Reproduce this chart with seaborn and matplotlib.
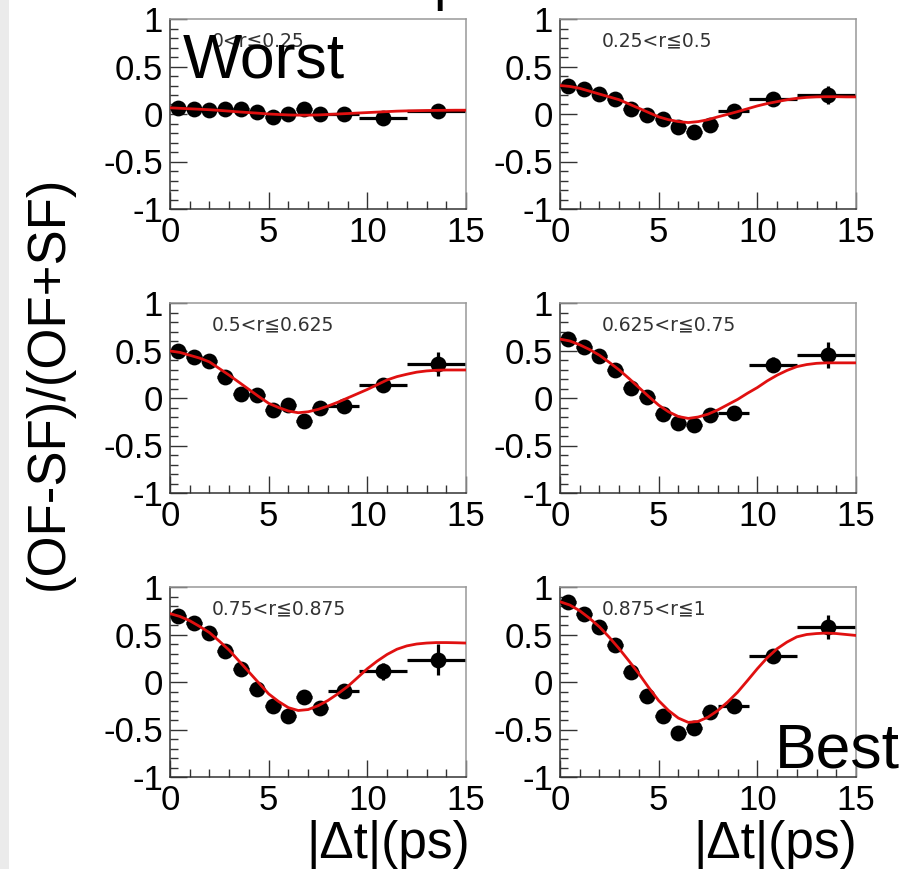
import numpy as np
import pandas as pd
import matplotlib
matplotlib.use("Agg")
import matplotlib.pyplot as plt
from matplotlib.ticker import MultipleLocator
from matplotlib.patches import Rectangle
import seaborn as sns

# ---------------------------------------------------------------- data
# bin centres and edges in |Δt| (ps)
t_center = [0.4, 1.2, 2.0, 2.8, 3.6, 4.4, 5.2, 6.0, 6.8, 7.6, 8.8, 10.8, 13.6]
bin_lo = [0.0, 0.8, 1.6, 2.4, 3.2, 4.0, 4.8, 5.6, 6.4, 7.2, 8.0, 9.6, 12.0]
bin_hi = [0.8, 1.6, 2.4, 3.2, 4.0, 4.8, 5.6, 6.4, 7.2, 8.0, 9.6, 12.0, 15.0]

# measured asymmetry (OF-SF)/(OF+SF) per flavour-tag quality bin
asym_r1 = [0.06, 0.053, 0.042, 0.049, 0.049, 0.025, -0.028, -0.004, 0.056, -0.004, -0.004, -0.046, 0.032]
asym_r2 = [0.30, 0.26, 0.21, 0.155, 0.05, -0.01, -0.05, -0.14, -0.19, -0.115, 0.035, 0.16, 0.20]
asym_r3 = [0.49, 0.435, 0.39, 0.225, 0.04, 0.03, -0.13, -0.075, -0.24, -0.11, -0.085, 0.135, 0.355]
asym_r4 = [0.62, 0.54, 0.44, 0.29, 0.11, 0.007, -0.17, -0.26, -0.285, -0.18, -0.155, 0.35, 0.45]
asym_r5 = [0.70, 0.62, 0.52, 0.33, 0.14, -0.07, -0.255, -0.355, -0.16, -0.275, -0.09, 0.115, 0.235]
asym_r6 = [0.845, 0.72, 0.58, 0.385, 0.11, -0.15, -0.355, -0.54, -0.48, -0.32, -0.255, 0.27, 0.58]

# statistical uncertainties
err_r1 = [0.02, 0.02, 0.02, 0.02, 0.02, 0.02, 0.02, 0.02, 0.02, 0.02, 0.025, 0.03, 0.04]
err_r2 = [0.02, 0.02, 0.02, 0.02, 0.02, 0.02, 0.02, 0.02, 0.025, 0.025, 0.03, 0.04, 0.09]
err_r3 = [0.02, 0.02, 0.02, 0.02, 0.02, 0.02, 0.025, 0.025, 0.03, 0.03, 0.035, 0.07, 0.125]
err_r4 = [0.02, 0.02, 0.02, 0.02, 0.02, 0.02, 0.025, 0.025, 0.03, 0.03, 0.035, 0.08, 0.135]
err_r5 = [0.02, 0.02, 0.02, 0.02, 0.02, 0.025, 0.025, 0.03, 0.03, 0.035, 0.04, 0.09, 0.16]
err_r6 = [0.02, 0.02, 0.02, 0.02, 0.02, 0.025, 0.025, 0.03, 0.03, 0.035, 0.04, 0.07, 0.13]

# fitted curves sampled every 0.5 ps from 0 to 15 ps
fit_t = [0.0, 0.5, 1.0, 1.5, 2.0, 2.5, 3.0, 3.5, 4.0, 4.5, 5.0, 5.5, 6.0, 6.5, 7.0, 7.5,
         8.0, 8.5, 9.0, 9.5, 10.0, 10.5, 11.0, 11.5, 12.0, 12.5, 13.0, 13.5, 14.0, 14.5, 15.0]
fit_r1 = [0.065, 0.06, 0.055, 0.05, 0.045, 0.038, 0.03, 0.022, 0.015, 0.008, 0.0, -0.005, -0.01,
          -0.012, -0.012, -0.01, -0.005, 0.0, 0.005, 0.01, 0.015, 0.02, 0.025, 0.03, 0.033,
          0.035, 0.037, 0.038, 0.039, 0.04, 0.04]
fit_r2 = [0.30, 0.29, 0.27, 0.24, 0.21, 0.18, 0.15, 0.105, 0.06, 0.015, -0.03, -0.06, -0.08,
          -0.09, -0.08, -0.06, -0.03, -0.003, 0.025, 0.055, 0.085, 0.11, 0.13, 0.15, 0.165,
          0.175, 0.18, 0.182, 0.182, 0.18, 0.18]
fit_r3 = [0.495, 0.48, 0.45, 0.42, 0.38, 0.31, 0.24, 0.165, 0.09, 0.015, -0.056, -0.10, -0.137,
          -0.155, -0.145, -0.12, -0.085, -0.045, 0.0, 0.045, 0.09, 0.14, 0.19, 0.225, 0.25,
          0.272, 0.285, 0.292, 0.295, 0.295, 0.295]
fit_r4 = [0.62, 0.60, 0.56, 0.51, 0.45, 0.375, 0.295, 0.205, 0.11, 0.015, -0.075, -0.145, -0.195,
          -0.215, -0.20, -0.17, -0.125, -0.07, -0.015, 0.05, 0.11, 0.18, 0.24, 0.29, 0.33,
          0.352, 0.365, 0.37, 0.37, 0.37, 0.37]
fit_r5 = [0.72, 0.69, 0.645, 0.585, 0.52, 0.43, 0.335, 0.22, 0.105, -0.01, -0.125, -0.205, -0.27,
          -0.30, -0.29, -0.25, -0.195, -0.125, -0.048, 0.045, 0.14, 0.22, 0.29, 0.345, 0.38,
          0.40, 0.41, 0.415, 0.415, 0.413, 0.41]
fit_r6 = [0.845, 0.81, 0.75, 0.67, 0.58, 0.47, 0.35, 0.22, 0.086, -0.06, -0.196, -0.30, -0.38,
          -0.425, -0.415, -0.37, -0.30, -0.21, -0.107, 0.015, 0.14, 0.255, 0.35, 0.42, 0.475,
          0.50, 0.51, 0.515, 0.51, 0.50, 0.49]

panel_labels = ["0<r≦0.25", "0.25<r≦0.5", "0.5<r≦0.625",
                "0.625<r≦0.75", "0.75<r≦0.875", "0.875<r≦1"]
x_ticks = [0, 5, 10, 15]
x_ticklabels = ["0", "5", "10", "15"]
y_ticks = [-1, -0.5, 0, 0.5, 1]
y_ticklabels = ["-1", "-0.5", "0", "0.5", "1"]

asym_all = [asym_r1, asym_r2, asym_r3, asym_r4, asym_r5, asym_r6]
err_all = [err_r1, err_r2, err_r3, err_r4, err_r5, err_r6]
fit_all = [fit_r1, fit_r2, fit_r3, fit_r4, fit_r5, fit_r6]

# ---------------------------------------------------------------- style
sns.set_style("white")
plt.rcParams["font.family"] = ["Liberation Sans", "DejaVu Sans"]
plt.rcParams["axes.unicode_minus"] = False
plt.rcParams["text.color"] = "black"
plt.rcParams["xtick.color"] = "black"
plt.rcParams["ytick.color"] = "black"

W, H = 911, 869
fig = plt.figure(figsize=(W / 100, H / 100), dpi=100)
fig.patch.set_facecolor("white")

# thin grey strip down the left edge
fig.add_artist(Rectangle((0, 0), 9 / W, 1, transform=fig.transFigure,
                         facecolor="#ebebeb", edgecolor="none", zorder=0))

col_left = [170, 560]
row_top = [19, 303, 587]
ax_w, ax_h = 296, 190

xerr_lo = [c - lo for c, lo in zip(t_center, bin_lo)]
xerr_hi = [hi - c for c, hi in zip(t_center, bin_hi)]

for i in range(6):
    r, c = divmod(i, 2)
    ax = fig.add_axes([col_left[c] / W, 1 - (row_top[r] + ax_h) / H, ax_w / W, ax_h / H])

    pts = pd.DataFrame({"t": t_center, "a": asym_all[i]})
    fit = pd.DataFrame({"t": fit_t, "a": fit_all[i]})

    ax.errorbar(t_center, asym_all[i], yerr=err_all[i], xerr=[xerr_lo, xerr_hi],
                fmt="none", ecolor="black", elinewidth=2.3, capsize=0, zorder=2)
    sns.scatterplot(data=pts, x="t", y="a", ax=ax, color="black", s=130,
                    marker="o", linewidth=0, zorder=3)
    sns.lineplot(data=fit, x="t", y="a", ax=ax, color="#e01010", linewidth=2.0,
                 errorbar=None, zorder=4)

    ax.set_xlim(0, 15)
    ax.set_ylim(-1, 1)
    ax.set_xticks(x_ticks)
    ax.set_xticklabels(x_ticklabels)
    ax.set_yticks(y_ticks)
    ax.set_yticklabels(y_ticklabels)
    ax.xaxis.set_minor_locator(MultipleLocator(1))
    ax.yaxis.set_minor_locator(MultipleLocator(0.1))
    ax.tick_params(which="both", direction="in", top=False, right=False,
                   bottom=True, left=True, color="#333333", labelcolor="black", width=1.0)
    ax.tick_params(which="major", length=12, labelsize=25, pad=5)
    ax.tick_params(which="minor", length=6)
    ax.set_xlabel("")
    ax.set_ylabel("")
    for side in ["left", "bottom"]:
        ax.spines[side].set_color("#333333")
        ax.spines[side].set_linewidth(1.1)
    for side in ["top", "right"]:
        ax.spines[side].set_color("#999999")
        ax.spines[side].set_linewidth(1.1)

    ax.text(0.141, 0.885, panel_labels[i], transform=ax.transAxes,
            ha="left", va="center", fontsize=13.5, color="#333333",
            family=["DejaVu Sans"], zorder=5)

# annotations
fig.text(183 / W, 1 - 78 / H, "Worst", fontsize=45, ha="left", va="baseline",
         color="black", zorder=10)
fig.text(775 / W, 1 - 768 / H, "Best", fontsize=45, ha="left", va="baseline",
         color="black", zorder=10)
fig.text(433 / W, 1 + 1 / H, "p", fontsize=40, ha="left", va="baseline", color="black")

# axis titles
fig.text(49 / W, 1 - 383 / H, "(OF-SF)/(OF+SF)", rotation=90, fontsize=38,
         ha="center", va="center", color="black")
for xc in [388, 775]:
    fig.text(xc / W, 1 - 858 / H, "|Δt|(ps)", fontsize=37, ha="center",
             va="baseline", color="black")

fig.savefig("out.png", dpi=100)
